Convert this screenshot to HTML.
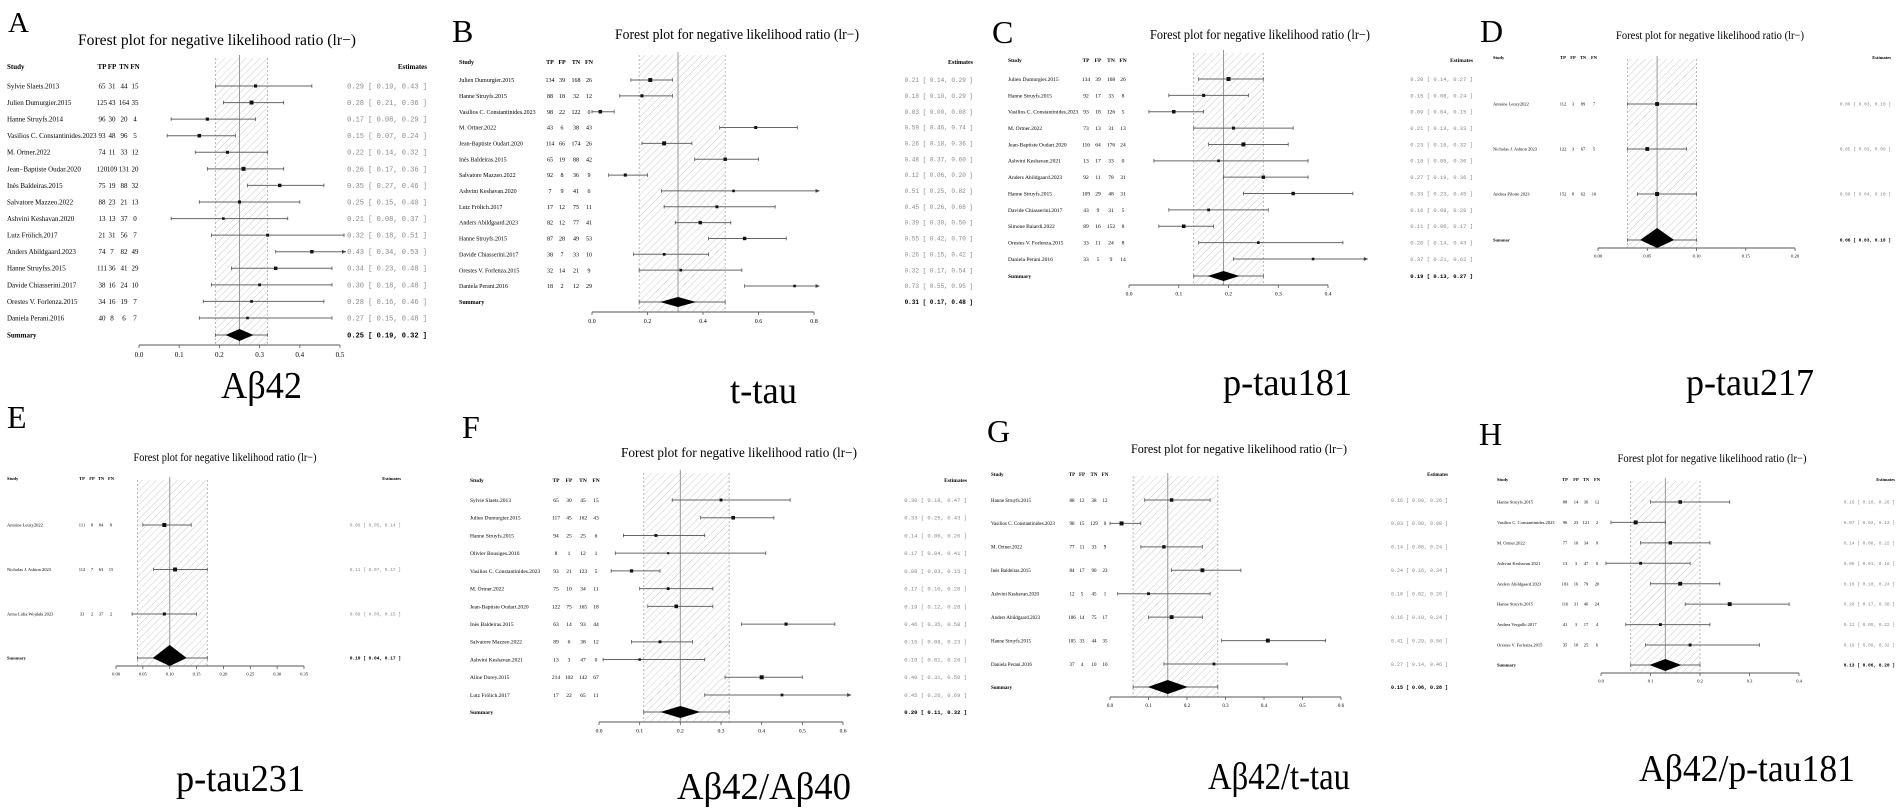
<!DOCTYPE html>
<html><head><meta charset="utf-8"><title>Forest plots for negative likelihood ratio</title>
<style>
html,body{margin:0;padding:0;background:#fff;}
svg{display:block;}
text{font-family:"Liberation Serif","DejaVu Serif",serif;}
.mono{font-family:"Liberation Mono","DejaVu Sans Mono",monospace;}
</style></head>
<body>
<svg id="fig" xmlns="http://www.w3.org/2000/svg" width="1902" height="812" viewBox="0 0 1902 812">
<defs>
<pattern id="hatch" patternUnits="userSpaceOnUse" width="5" height="5" patternTransform="rotate(45)">
<line x1="0" y1="0" x2="0" y2="5" stroke="#b5b5b5" stroke-width="0.7"/>
</pattern>
</defs>
<rect x="0" y="0" width="1902" height="812" fill="#fff"/>
</svg>
<script>
// ---------- Panel A: Aβ42 ----------
const aStudies=["Sylvie Slaets.2013","Julien Dumurgier.2015","Hanne Struyfs.2014","Vasilios C. Constantinides.2023","M. Ortner.2022","Jean\u2212Baptiste Oudar.2020","Inès Baldeiras.2015","Salvatore Mazzeo.2022","Ashvini Keshavan.2020","Lutz Frölich.2017","Anders Abildgaard.2023","Hanne Struyfss.2015","Davide Chiasserini.2017","Orestes V. Forlenza.2015","Daniela Perani.2016"];
const aCounts=[[65,31,44,15],[125,43,164,35],[96,30,20,4],[93,48,96,5],[74,11,33,12],[120,109,131,20],[75,19,88,32],[88,23,21,13],[13,13,37,0],[21,31,56,7],[74,7,82,49],[111,36,41,29],[38,16,24,10],[34,16,19,7],[40,8,6,7]];
const aEst=[0.29,0.28,0.17,0.15,0.22,0.26,0.35,0.25,0.21,0.32,0.43,0.34,0.30,0.28,0.27];
const aLo=[0.19,0.21,0.08,0.07,0.14,0.17,0.27,0.15,0.08,0.18,0.34,0.23,0.18,0.16,0.15];
const aHi=[0.43,0.36,0.29,0.24,0.32,0.36,0.46,0.40,0.37,0.51,0.53,0.48,0.48,0.46,0.48];
const aSummary=[0.25,0.19,0.32];
const aTicks=["0.0","0.1","0.2","0.3","0.4","0.5"];

// ---------- Panel B: t-tau ----------
const bStudies=["Julien Dumurgier.2015","Hanne Struyfs.2015","Vasilios C. Constantinides.2023","M. Ortner.2022","Jean-Baptiste Oudart.2020","Inès Baldeiras.2015","Salvatore Mazzeo.2022","Ashvini Keshavan.2020","Lutz Frölich.2017","Anders Abildgaard.2023","Hanne Struyfs.2015","Davide Chiasserini.2017","Orestes V. Forlenza.2015","Daniela Perani.2016"];
const bCounts=[[134,39,168,26],[88,18,32,12],[98,22,122,0],[43,6,38,43],[114,66,174,26],[65,19,88,42],[92,8,36,9],[7,9,41,6],[17,12,75,11],[82,12,77,41],[87,28,49,53],[38,7,33,10],[32,14,21,9],[18,2,12,29]];
const bEst=[0.21,0.18,0.03,0.59,0.26,0.48,0.12,0.51,0.45,0.39,0.55,0.26,0.32,0.73];
const bLo=[0.14,0.10,0.00,0.46,0.18,0.37,0.06,0.25,0.26,0.30,0.42,0.15,0.17,0.55];
const bHi=[0.29,0.29,0.08,0.74,0.36,0.60,0.20,0.82,0.66,0.50,0.70,0.42,0.54,0.95];
const bSummary=[0.31,0.17,0.48];
const bTicks=["0.0","0.2","0.4","0.6","0.8"];

// ---------- Panel C: p-tau181 ----------
const cStudies=["Julien Dumurgier.2015","Hanne Struyfs.2015","Vasilios C. Constantinides.2023","M. Ortner.2022","Jean-Baptiste Oudart.2020","Ashvini Keshavan.2021","Anders Abildgaard.2023","Hanne Struyfs.2015","Davide Chiasserini.2017","Simone Baiardi.2022","Orestes V. Forlenza.2015","Daniela Perani.2016"];
const cCounts=[[134,39,168,26],[92,17,33,8],[93,18,126,5],[73,13,31,13],[116,64,176,24],[13,17,33,0],[92,11,78,31],[109,29,48,31],[43,9,31,5],[89,16,152,8],[33,11,24,8],[33,5,9,14]];
const cEst=[0.20,0.15,0.09,0.21,0.23,0.18,0.27,0.33,0.16,0.11,0.26,0.37];
const cLo=[0.14,0.08,0.04,0.13,0.16,0.05,0.19,0.23,0.08,0.06,0.14,0.21];
const cHi=[0.27,0.24,0.15,0.33,0.32,0.36,0.36,0.45,0.28,0.17,0.43,0.62];
const cSummary=[0.19,0.13,0.27];
const cTicks=["0.0","0.1","0.2","0.3","0.4"];

// ---------- Panel D: p-tau217 ----------
const dStudies=["Antoine Leuzy2022","Nicholas J. Ashton 2023","Andrea Pilotto 2023"];
const dCounts=[[112,3,89,7],[122,3,67,5],[152,8,62,10]];
const dEst=[0.06,0.05,0.06];
const dLo=[0.03,0.03,0.04];
const dHi=[0.10,0.09,0.10];
const dSummary=[0.06,0.03,0.10];
const dTicks=["0.00","0.05","0.10","0.15","0.20"];

// ---------- Panel E: p-tau231 ----------
const eStudies=["Antoine Leuzy2022","Nicholas J. Ashton 2023","Anna Lidia Wojdała 2023"];
const eCounts=[[111,8,84,8],[112,7,63,15],[33,2,37,2]];
const eEst=[0.09,0.11,0.09];
const eLo=[0.05,0.07,0.03];
const eHi=[0.14,0.17,0.15];
const eSummary=[0.10,0.04,0.17];
const eTicks=["0.00","0.05","0.10","0.15","0.20","0.25","0.30","0.35"];

// ---------- Panel F: Aβ42/Aβ40 ----------
const fStudies=["Sylvie Slaets.2013","Julien Dumurgier.2015","Hanne Struyfs.2015","Olivier Bousiges.2016","Vasilios C. Constantinides.2023","M. Ortner.2022","Jean-Baptiste Oudart.2020","Inès Baldeiras.2015","Salvatore Mazzeo.2022","Ashvini Keshavan.2021","Aline Dorey.2015","Lutz Frölich.2017"];
const fCounts=[[65,30,45,15],[117,45,162,43],[94,25,25,6],[8,1,12,1],[93,21,123,5],[75,10,34,11],[122,75,165,18],[63,14,93,44],[89,6,38,12],[13,3,47,0],[214,102,142,67],[17,22,65,11]];
const fEst=[0.30,0.33,0.14,0.17,0.08,0.17,0.19,0.46,0.15,0.10,0.40,0.45];
const fLo=[0.18,0.25,0.06,0.04,0.03,0.10,0.12,0.35,0.08,0.01,0.31,0.26];
const fHi=[0.47,0.43,0.26,0.41,0.15,0.28,0.28,0.58,0.23,0.26,0.50,0.69];
const fSummary=[0.20,0.11,0.32];
const fTicks=["0.0","0.1","0.2","0.3","0.4","0.5","0.6"];

// ---------- Panel G: Aβ42/t-tau ----------
const gStudies=["Hanne Struyfs.2015","Vasilios C. Constantinides.2023","M. Ortner.2022","Inès Baldeiras.2015","Ashvini Keshavan.2020","Anders Abildgaard.2023","Hanne Struyfs.2015","Daniela Perani.2016"];
const gCounts=[[88,12,38,12],[98,15,129,0],[77,11,33,9],[84,17,90,23],[12,5,45,1],[106,14,75,17],[105,33,44,35],[37,4,10,10]];
const gEst=[0.16,0.03,0.14,0.24,0.10,0.16,0.41,0.27];
const gLo=[0.09,0.00,0.08,0.16,0.02,0.10,0.29,0.14];
const gHi=[0.26,0.08,0.24,0.34,0.26,0.24,0.56,0.46];
const gSummary=[0.15,0.06,0.28];
const gTicks=["0.0","0.1","0.2","0.3","0.4","0.5","0.6"];

// ---------- Panel H: Aβ42/p-tau181 ----------
const hStudies=["Hanne Struyfs.2015","Vasilios C. Constantinides.2023","M. Ortner.2022","Ashvini Keshavan.2021","Anders Abildgaard.2023","Hanne Struyfs.2015","Andrea Vergallo.2017","Orestes V. Forlenza.2015"];
const hCounts=[[88,14,36,12],[96,23,121,2],[77,10,34,9],[13,3,47,0],[103,16,79,20],[116,31,46,24],[41,3,17,4],[35,10,25,6]];
const hEst=[0.16,0.07,0.14,0.08,0.16,0.26,0.12,0.18];
const hLo=[0.10,0.02,0.08,0.01,0.10,0.17,0.05,0.09];
const hHi=[0.26,0.13,0.22,0.18,0.24,0.38,0.22,0.32];
const hSummary=[0.13,0.06,0.20];
const hTicks=["0.0","0.1","0.2","0.3","0.4"];

// ---------- layout (style only) ----------
const panels=[
 {id:"a",letter:"A",lx:8,ly:32,lfs:29,tcx:217,ty:45,tw:278,tfs:16,hy:69,sx:7,cols:[102,112,124,135],r0:86,r1:318,sy:335,ay:345,x0:139,x1:340,max:0.5,clip:0.515,er:427,fs:7,bt:58,dw:14,dh:6,lab:"Aβ42",labx:221,labw:81,laby:398,S:aStudies,C:aCounts,E:aEst,L:aLo,H:aHi,M:aSummary,T:aTicks,sumLabel:"Summary"},
 {id:"b",letter:"B",lx:452,ly:42,lfs:32,tcx:737,ty:39,tw:244,tfs:15,hy:64,sx:459,cols:[550,562,576,589],r0:80,r1:286,sy:302,ay:312,x0:592,x1:814,max:0.8,clip:0.82,er:973,fs:6,bt:55,dw:18,dh:5,lab:"t-tau",labx:730,labw:67,laby:403,S:bStudies,C:bCounts,E:bEst,L:bLo,H:bHi,M:bSummary,T:bTicks,sumLabel:"Summary"},
 {id:"c",letter:"C",lx:992,ly:43,lfs:32,tcx:1260,ty:39,tw:220,tfs:14,hy:62,sx:1008,cols:[1086,1098,1111,1123],r0:79,r1:259,sy:276,ay:285,x0:1129,x1:1328,max:0.4,clip:0.48,er:1473,fs:5.5,bt:53,dw:16,dh:5,lab:"p-tau181",labx:1223,labw:129,laby:395,S:cStudies,C:cCounts,E:cEst,L:cLo,H:cHi,M:cSummary,T:cTicks,sumLabel:"Summary"},
 {id:"d",letter:"D",lx:1480,ly:42,lfs:32,tcx:1710,ty:39,tw:188,tfs:12,hy:59,sx:1493,cols:[1563,1573,1583,1594],r0:104,r1:194,sy:240,ay:248,x0:1598,x1:1795,max:0.2,clip:0.2,er:1891,fs:4.5,bt:59,dw:17,dh:12,lab:"p-tau217",labx:1686,labw:128,laby:395,S:dStudies,C:dCounts,E:dEst,L:dLo,H:dHi,M:dSummary,T:dTicks,sumLabel:"Summar"},
 {id:"e",letter:"E",lx:7,ly:428,lfs:32,tcx:225,ty:461,tw:183,tfs:12,hy:480,sx:7,cols:[82,92,101,111],r0:525,r1:614,sy:658,ay:666,x0:116,x1:304,max:0.35,clip:0.35,er:401,fs:4.5,bt:480,dw:17,dh:13,lab:"p-tau231",labx:176,labw:129,laby:791,S:eStudies,C:eCounts,E:eEst,L:eLo,H:eHi,M:eSummary,T:eTicks,sumLabel:"Summary"},
 {id:"f",letter:"F",lx:462,ly:438,lfs:32,tcx:739,ty:457,tw:236,tfs:14,hy:482,sx:470,cols:[556,569,583,596],r0:500,r1:695,sy:712,ay:722,x0:599,x1:843,max:0.6,clip:0.62,er:967,fs:5.5,bt:473,dw:20,dh:6,lab:"Aβ42/Aβ40",labx:677,labw:174,laby:799,S:fStudies,C:fCounts,E:fEst,L:fLo,H:fHi,M:fSummary,T:fTicks,sumLabel:"Summary"},
 {id:"g",letter:"G",lx:987,ly:442,lfs:32,tcx:1239,ty:453,tw:216,tfs:13,hy:476,sx:991,cols:[1072,1082,1094,1105],r0:500,r1:664,sy:687,ay:697,x0:1110,x1:1341,max:0.6,clip:0.62,er:1448,fs:5,bt:476,dw:20,dh:7,lab:"Aβ42/t-tau",labx:1208,labw:142,laby:789,S:gStudies,C:gCounts,E:gEst,L:gLo,H:gHi,M:gSummary,T:gTicks,sumLabel:"Summary"},
 {id:"h",letter:"H",lx:1479,ly:445,lfs:32,tcx:1712,ty:462,tw:189,tfs:12,hy:481,sx:1497,cols:[1565,1576,1586,1597],r0:502,r1:645,sy:665,ay:673,x0:1601,x1:1799,max:0.4,clip:0.4,er:1895,fs:4.5,bt:481,dw:16,dh:6,lab:"Aβ42/p-tau181",labx:1639,labw:216,laby:781,S:hStudies,C:hCounts,E:hEst,L:hLo,H:hHi,M:hSummary,T:hTicks,sumLabel:"Summary"}
];

const NS="http://www.w3.org/2000/svg";
const svg=document.getElementById("fig");
function mk(parent,tag,attrs,txt){
  const el=document.createElementNS(NS,tag);
  for(const k in attrs) el.setAttribute(k,attrs[k]);
  if(txt!==undefined) el.textContent=txt;
  parent.appendChild(el);
  return el;
}
function fmt(v){return v.toFixed(2);}

panels.forEach(p=>{
  const g=mk(svg,"g",{});
  
  
  const sc=v=>p.x0+Math.min(v,p.clip)/p.max*(p.x1-p.x0);
  const n=p.S.length;
  const rowY=i=>n>1?p.r0+i*(p.r1-p.r0)/(n-1):p.r0;

  let t=mk(g,"text",{x:p.lx,y:p.ly,"font-size":p.lfs},p.letter);
  
  

  t=mk(g,"text",{x:p.tcx,y:p.ty,"font-size":p.tfs,"text-anchor":"middle",textLength:p.tw,lengthAdjust:"spacingAndGlyphs"},"Forest plot for negative likelihood ratio (lr\u2212)");
  
  

  t=mk(g,"text",{x:p.sx,y:p.hy,"font-size":p.fs,"font-weight":"bold"},"Study");
  
  
  ["TP","FP","TN","FN"].forEach((h,j)=>{
    const th=mk(g,"text",{x:p.cols[j],y:p.hy,"font-size":p.fs,"font-weight":"bold","text-anchor":"middle"},h);
    
    
  });
  t=mk(g,"text",{x:p.er,y:p.hy,"font-size":p.fs,"font-weight":"bold","text-anchor":"end"},"Estimates");
  
  

  const bx0=sc(p.M[1]),bx1=sc(p.M[2]);
  let r=mk(g,"rect",{x:bx0,y:p.bt,width:bx1-bx0,height:p.ay-p.bt,fill:"url(#hatch)"});
  
  
  [bx0,bx1].forEach(x=>{
    const l=mk(g,"line",{x1:x,x2:x,y1:p.bt,y2:p.ay,stroke:"#aaa","stroke-width":0.8,"stroke-dasharray":"2,2"});
    
    
  });
  let l=mk(g,"line",{x1:sc(p.M[0]),x2:sc(p.M[0]),y1:p.bt-3,y2:p.ay,stroke:"#999","stroke-width":1});
  
  

  const maxN=Math.max(...p.C.map(c=>c[0]+c[1]+c[2]+c[3]));
  p.S.forEach((s,i)=>{
    const y=rowY(i);
    const st=mk(g,"text",{x:p.sx,y:y+p.fs*0.35,"font-size":p.fs},s);
    
    
    p.C[i].forEach((v,j)=>{
      const ct=mk(g,"text",{x:p.cols[j],y:y+p.fs*0.35,"font-size":p.fs,"text-anchor":"middle"},String(v));
      
      
    });
    const xl=sc(p.L[i]),xh=sc(p.H[i]),over=p.H[i]>=p.clip;
    const ci=mk(g,"line",{x1:xl,x2:xh,y1:y,y2:y,stroke:"#666","stroke-width":1});
    
    
    const cap1=mk(g,"line",{x1:xl,x2:xl,y1:y-1.8,y2:y+1.8,stroke:"#555","stroke-width":0.8});
    
    
    if(over){
      const ar=mk(g,"path",{d:`M${xh} ${y} l-4 -2 l0 4 z`,fill:"#444"});
      
      
    } else {
      const cap2=mk(g,"line",{x1:xh,x2:xh,y1:y-1.8,y2:y+1.8,stroke:"#555","stroke-width":0.8});
      
      
    }
    const tot=p.C[i][0]+p.C[i][1]+p.C[i][2]+p.C[i][3];
    const sz=1.6+2.4*Math.sqrt(tot/maxN);
    const pt=mk(g,"rect",{x:sc(p.E[i])-sz/2,y:y-sz/2,width:sz,height:sz,fill:"#111"});
    
    
    const et=mk(g,"text",{x:p.er,y:y+p.fs*0.35,"font-size":p.fs,"text-anchor":"end",fill:"#888","class":"mono","xml:space":"preserve"},`${fmt(p.E[i])} [ ${fmt(p.L[i])}, ${fmt(p.H[i])} ]`);
    
    
  });

  const sy=p.sy;
  let st=mk(g,"text",{x:p.sx,y:sy+p.fs*0.35,"font-size":p.fs,"font-weight":"bold"},p.sumLabel);
  
  
  l=mk(g,"line",{x1:bx0,x2:bx1,y1:sy,y2:sy,stroke:"#666","stroke-width":1});
  
  
  [bx0,bx1].forEach(x=>{
    const c=mk(g,"line",{x1:x,x2:x,y1:sy-1.8,y2:sy+1.8,stroke:"#555","stroke-width":0.8});
    
    
  });
  const mx=sc(p.M[0]);
  const dm=mk(g,"path",{d:`M${mx-p.dw} ${sy} L${mx} ${sy-p.dh} L${mx+p.dw} ${sy} L${mx} ${Math.min(sy+p.dh,p.ay)} Z`,fill:"#000"});
  
  
  const se=mk(g,"text",{x:p.er,y:sy+p.fs*0.35,"font-size":p.fs,"text-anchor":"end","font-weight":"bold","class":"mono","xml:space":"preserve"},`${fmt(p.M[0])} [ ${fmt(p.M[1])}, ${fmt(p.M[2])} ]`);
  
  

  const ax=mk(g,"line",{x1:p.x0,x2:p.x1,y1:p.ay,y2:p.ay,stroke:"#555","stroke-width":1});
  
  
  p.T.forEach(lbl=>{
    const x=sc(parseFloat(lbl));
    const tk=mk(g,"line",{x1:x,x2:x,y1:p.ay,y2:p.ay+3,stroke:"#555","stroke-width":0.8});
    
    
    const tl=mk(g,"text",{x:x,y:p.ay+p.fs+5,"font-size":p.fs,"text-anchor":"middle"},lbl);
    
    
  });

  const bl=mk(g,"text",{x:p.labx,y:p.laby,"font-size":38,textLength:p.labw,lengthAdjust:"spacingAndGlyphs"},p.lab);
  
  
});
</script>
</body></html>
